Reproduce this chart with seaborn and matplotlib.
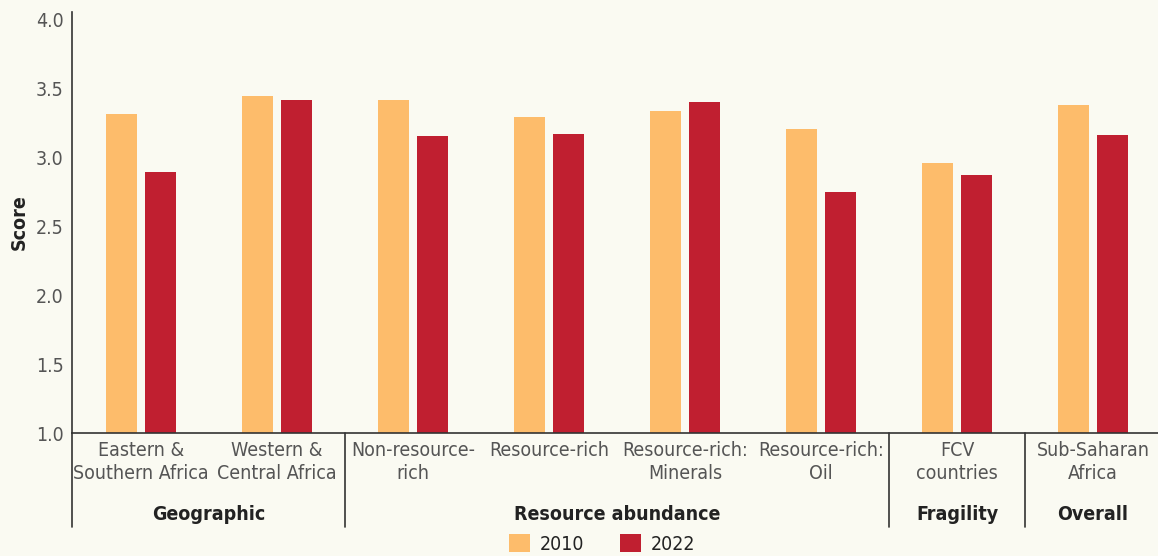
import pandas as pd
import seaborn as sns
import matplotlib.pyplot as plt

categories = ["Eastern &\nSouthern Africa", "Western &\nCentral Africa", "Non-resource-\nrich",
              "Resource-rich", "Resource-rich:\nMinerals", "Resource-rich:\nOil",
              "FCV\ncountries", "Sub-Saharan\nAfrica"]
score_2010 = [3.31, 3.44, 3.41, 3.29, 3.33, 3.20, 2.96, 3.38]
score_2022 = [2.89, 3.41, 3.15, 3.17, 3.40, 2.75, 2.87, 3.16]
groups = ["Geographic", "Resource abundance", "Fragility", "Overall"]
group_spans = [(0, 1), (2, 5), (6, 6), (7, 7)]

df = pd.DataFrame({
    "category": categories * 2,
    "score": score_2010 + score_2022,
    "year": ["2010"] * len(categories) + ["2022"] * len(categories),
})

bg = "#FAFAF2"
sns.set_style("white")
plt.rcParams["font.family"] = ["DejaVu Sans"]
plt.rcParams["font.stretch"] = "condensed"

fig = plt.figure(figsize=(11.58, 5.56), dpi=100, facecolor=bg)
ax = fig.add_axes([0.0622, 0.2212, 0.9378, 0.757])
ax.set_facecolor(bg)

sns.barplot(data=df, x="category", y="score", hue="year",
            palette={"2010": "#FDBC6B", "2022": "#C01F30"}, saturation=1,
            width=0.57, gap=0.2, linewidth=0, ax=ax)

ax.set_ylim(1.0, 4.05)
ax.set_xlim(-0.507, 7.478)
ax.set_yticks([1.0, 1.5, 2.0, 2.5, 3.0, 3.5, 4.0])
ax.set_yticklabels([f"{v:.1f}" for v in ax.get_yticks()])
ax.tick_params(axis="both", length=0, labelsize=14, labelcolor="#555555")
ax.tick_params(axis="x", pad=6)
ax.tick_params(axis="y", pad=6)
for lbl in ax.get_xticklabels():
    lbl.set_linespacing(1.25)
ax.set_xlabel("")
ax.set_ylabel("Score", fontsize=14, fontweight="bold", color="#222222")
ax.yaxis.set_label_coords(-0.04, 0.5)

for s in ["top", "right"]:
    ax.spines[s].set_visible(False)
ax.spines["left"].set_color("#333333")
ax.spines["bottom"].set_color("#333333")
ax.spines["left"].set_linewidth(1.2)
ax.spines["bottom"].set_linewidth(1.2)

# group separators and left spine extension below the axis
trans = ax.get_xaxis_transform()
for xs in [-0.507, 1.5, 5.5, 6.5]:
    ax.plot([xs, xs], [0, -0.223], transform=trans, color="#333333",
            lw=1.2, clip_on=False)

for name, (a, b) in zip(groups, group_spans):
    ax.text((a + b) / 2, -0.193, name, transform=trans, ha="center", va="center",
            fontsize=14, fontweight="bold", color="#222222")

handles, labels = ax.get_legend_handles_labels()
ax.get_legend().remove()
fig.legend(handles, labels, loc="center", bbox_to_anchor=(0.52, 0.022), ncol=2,
           frameon=False, fontsize=14, handlelength=1.1, handleheight=1.1,
           columnspacing=1.8, handletextpad=0.5, labelcolor="#222222")

fig.savefig("out.png", dpi=100, facecolor=bg)
